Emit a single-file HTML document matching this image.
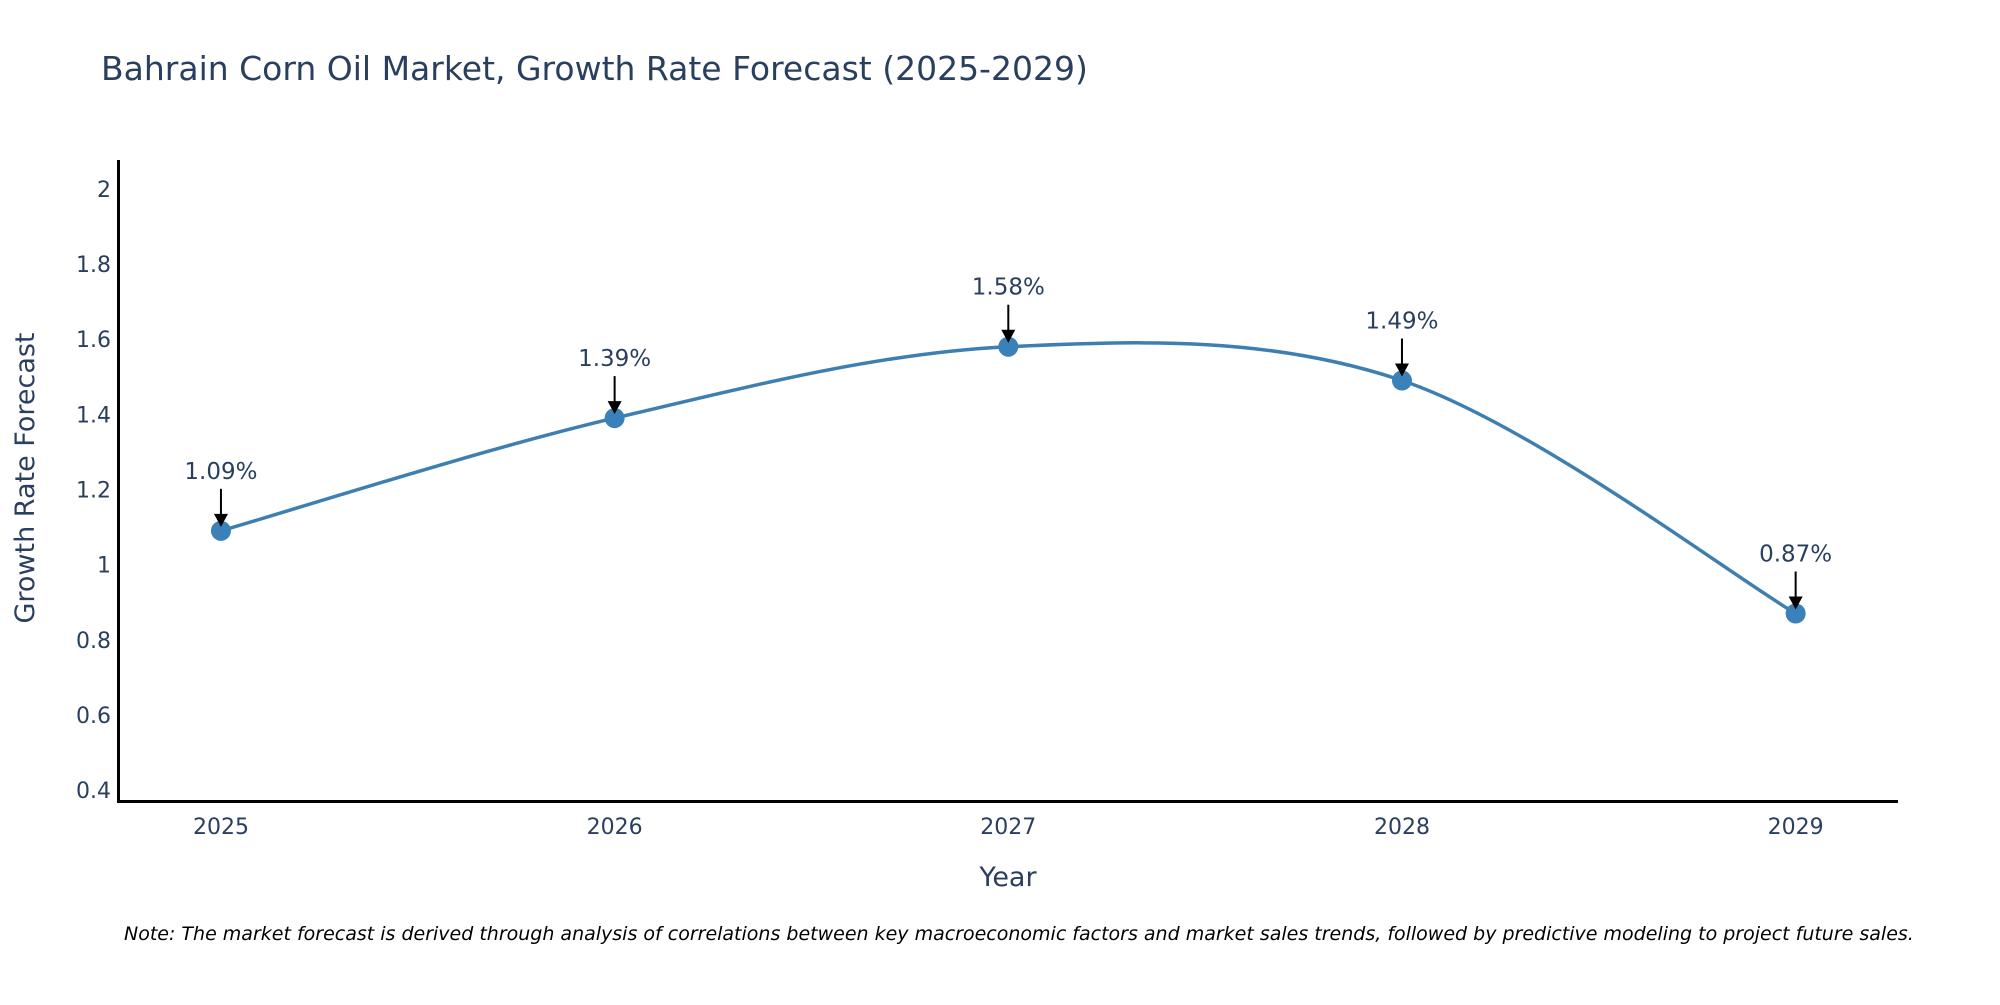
<!DOCTYPE html>
<html><head><meta charset="utf-8"><style>
body{margin:0;background:#fff;}
svg text{font-family:"DejaVu Sans","Liberation Sans",sans-serif;fill:#2a3f5f;}
</style></head><body>
<svg id="chart" width="2000" height="1000" xmlns="http://www.w3.org/2000/svg">
<text x="101" y="80" font-size="33">Bahrain Corn Oil Market, Growth Rate Forecast (2025-2029)</text>
<g id="yticks"></g>
<g id="xticks"></g>
<path id="line" fill="none" stroke="#3d7fb0" stroke-width="3.5"></path>
<g id="marks"></g>
<g id="annos"></g>
<line x1="118.5" y1="160" x2="118.5" y2="802" stroke="#000" stroke-width="3"/>
<line x1="117" y1="801.5" x2="1898" y2="801.5" stroke="#000" stroke-width="3"/>
<text transform="translate(34,478) rotate(-90)" text-anchor="middle" font-size="27">Growth Rate Forecast</text>
<text x="1008" y="886" text-anchor="middle" font-size="27">Year</text>
<text x="124" y="940" font-size="19" font-style="italic" style="fill:#000">Note: The market forecast is derived through analysis of correlations between key macroeconomic factors and market sales trends, followed by predictive modeling to project future sales.</text>
</svg>
<script>
const years = [2025, 2026, 2027, 2028, 2029];
const growth = [1.09, 1.39, 1.58, 1.49, 0.87];
const labels = ["1.09%", "1.39%", "1.58%", "1.49%", "0.87%"];
const yTicks = [0.4, 0.6, 0.8, 1, 1.2, 1.4, 1.6, 1.8, 2];
const xMin = 2024.74, xMax = 2029.26, yMin = 0.371, yMax = 2.075;
const L = 118.6, R = 1898, T = 160.7, B = 801;
const xs = v => L + (v - xMin) / (xMax - xMin) * (R - L);
const ys = v => B - (v - yMin) / (yMax - yMin) * (B - T);
const NS = "http://www.w3.org/2000/svg";
const yt = document.getElementById('yticks');
yTicks.forEach(t => {
  const e = document.createElementNS(NS, 'text');
  
  
  e.setAttribute('x', 111); e.setAttribute('y', ys(t) + 8);
  e.setAttribute('text-anchor', 'end'); e.setAttribute('font-size', '22');
  e.textContent = String(t); yt.appendChild(e);
});
const xt = document.getElementById('xticks');
years.forEach(y => {
  const e = document.createElementNS(NS, 'text');
  
  
  e.setAttribute('x', xs(y)); e.setAttribute('y', 834);
  e.setAttribute('text-anchor', 'middle'); e.setAttribute('font-size', '22');
  e.textContent = String(y); xt.appendChild(e);
});
const pts = years.map((y, i) => [xs(y), ys(growth[i])]);
let d = `M${pts[0][0]},${pts[0][1]}`;
for (let i = 0; i < pts.length - 1; i++) {
  const p0 = pts[Math.max(i - 1, 0)], p1 = pts[i], p2 = pts[i + 1], p3 = pts[Math.min(i + 2, pts.length - 1)];
  const k = 1 / 6;
  d += ` C${p1[0] + (p2[0] - p0[0]) * k},${p1[1] + (p2[1] - p0[1]) * k} ${p2[0] - (p3[0] - p1[0]) * k},${p2[1] - (p3[1] - p1[1]) * k} ${p2[0]},${p2[1]}`;
}
document.getElementById('line').setAttribute('d', d);
const mk = document.getElementById('marks'), an = document.getElementById('annos');
pts.forEach((p, i) => {
  const c = document.createElementNS(NS, 'circle');
  
  
  c.setAttribute('cx', p[0]); c.setAttribute('cy', p[1]); c.setAttribute('r', 10);
  c.setAttribute('fill', '#3a80b9'); mk.appendChild(c);
  const l = document.createElementNS(NS, 'line');
  
  
  l.setAttribute('x1', p[0]); l.setAttribute('y1', p[1] - 42);
  l.setAttribute('x2', p[0]); l.setAttribute('y2', p[1] - 14);
  l.setAttribute('stroke', '#000'); l.setAttribute('stroke-width', '2'); an.appendChild(l);
  const h = document.createElementNS(NS, 'path');
  
  
  h.setAttribute('d', `M${p[0] - 7},${p[1] - 17} L${p[0] + 7},${p[1] - 17} L${p[0]},${p[1] - 4} Z`);
  h.setAttribute('fill', '#000'); an.appendChild(h);
  const t = document.createElementNS(NS, 'text');
  
  
  t.setAttribute('x', p[0]); t.setAttribute('y', p[1] - 52);
  t.setAttribute('text-anchor', 'middle'); t.setAttribute('font-size', '23');
  t.textContent = labels[i]; an.appendChild(t);
});
</script>
</body></html>
